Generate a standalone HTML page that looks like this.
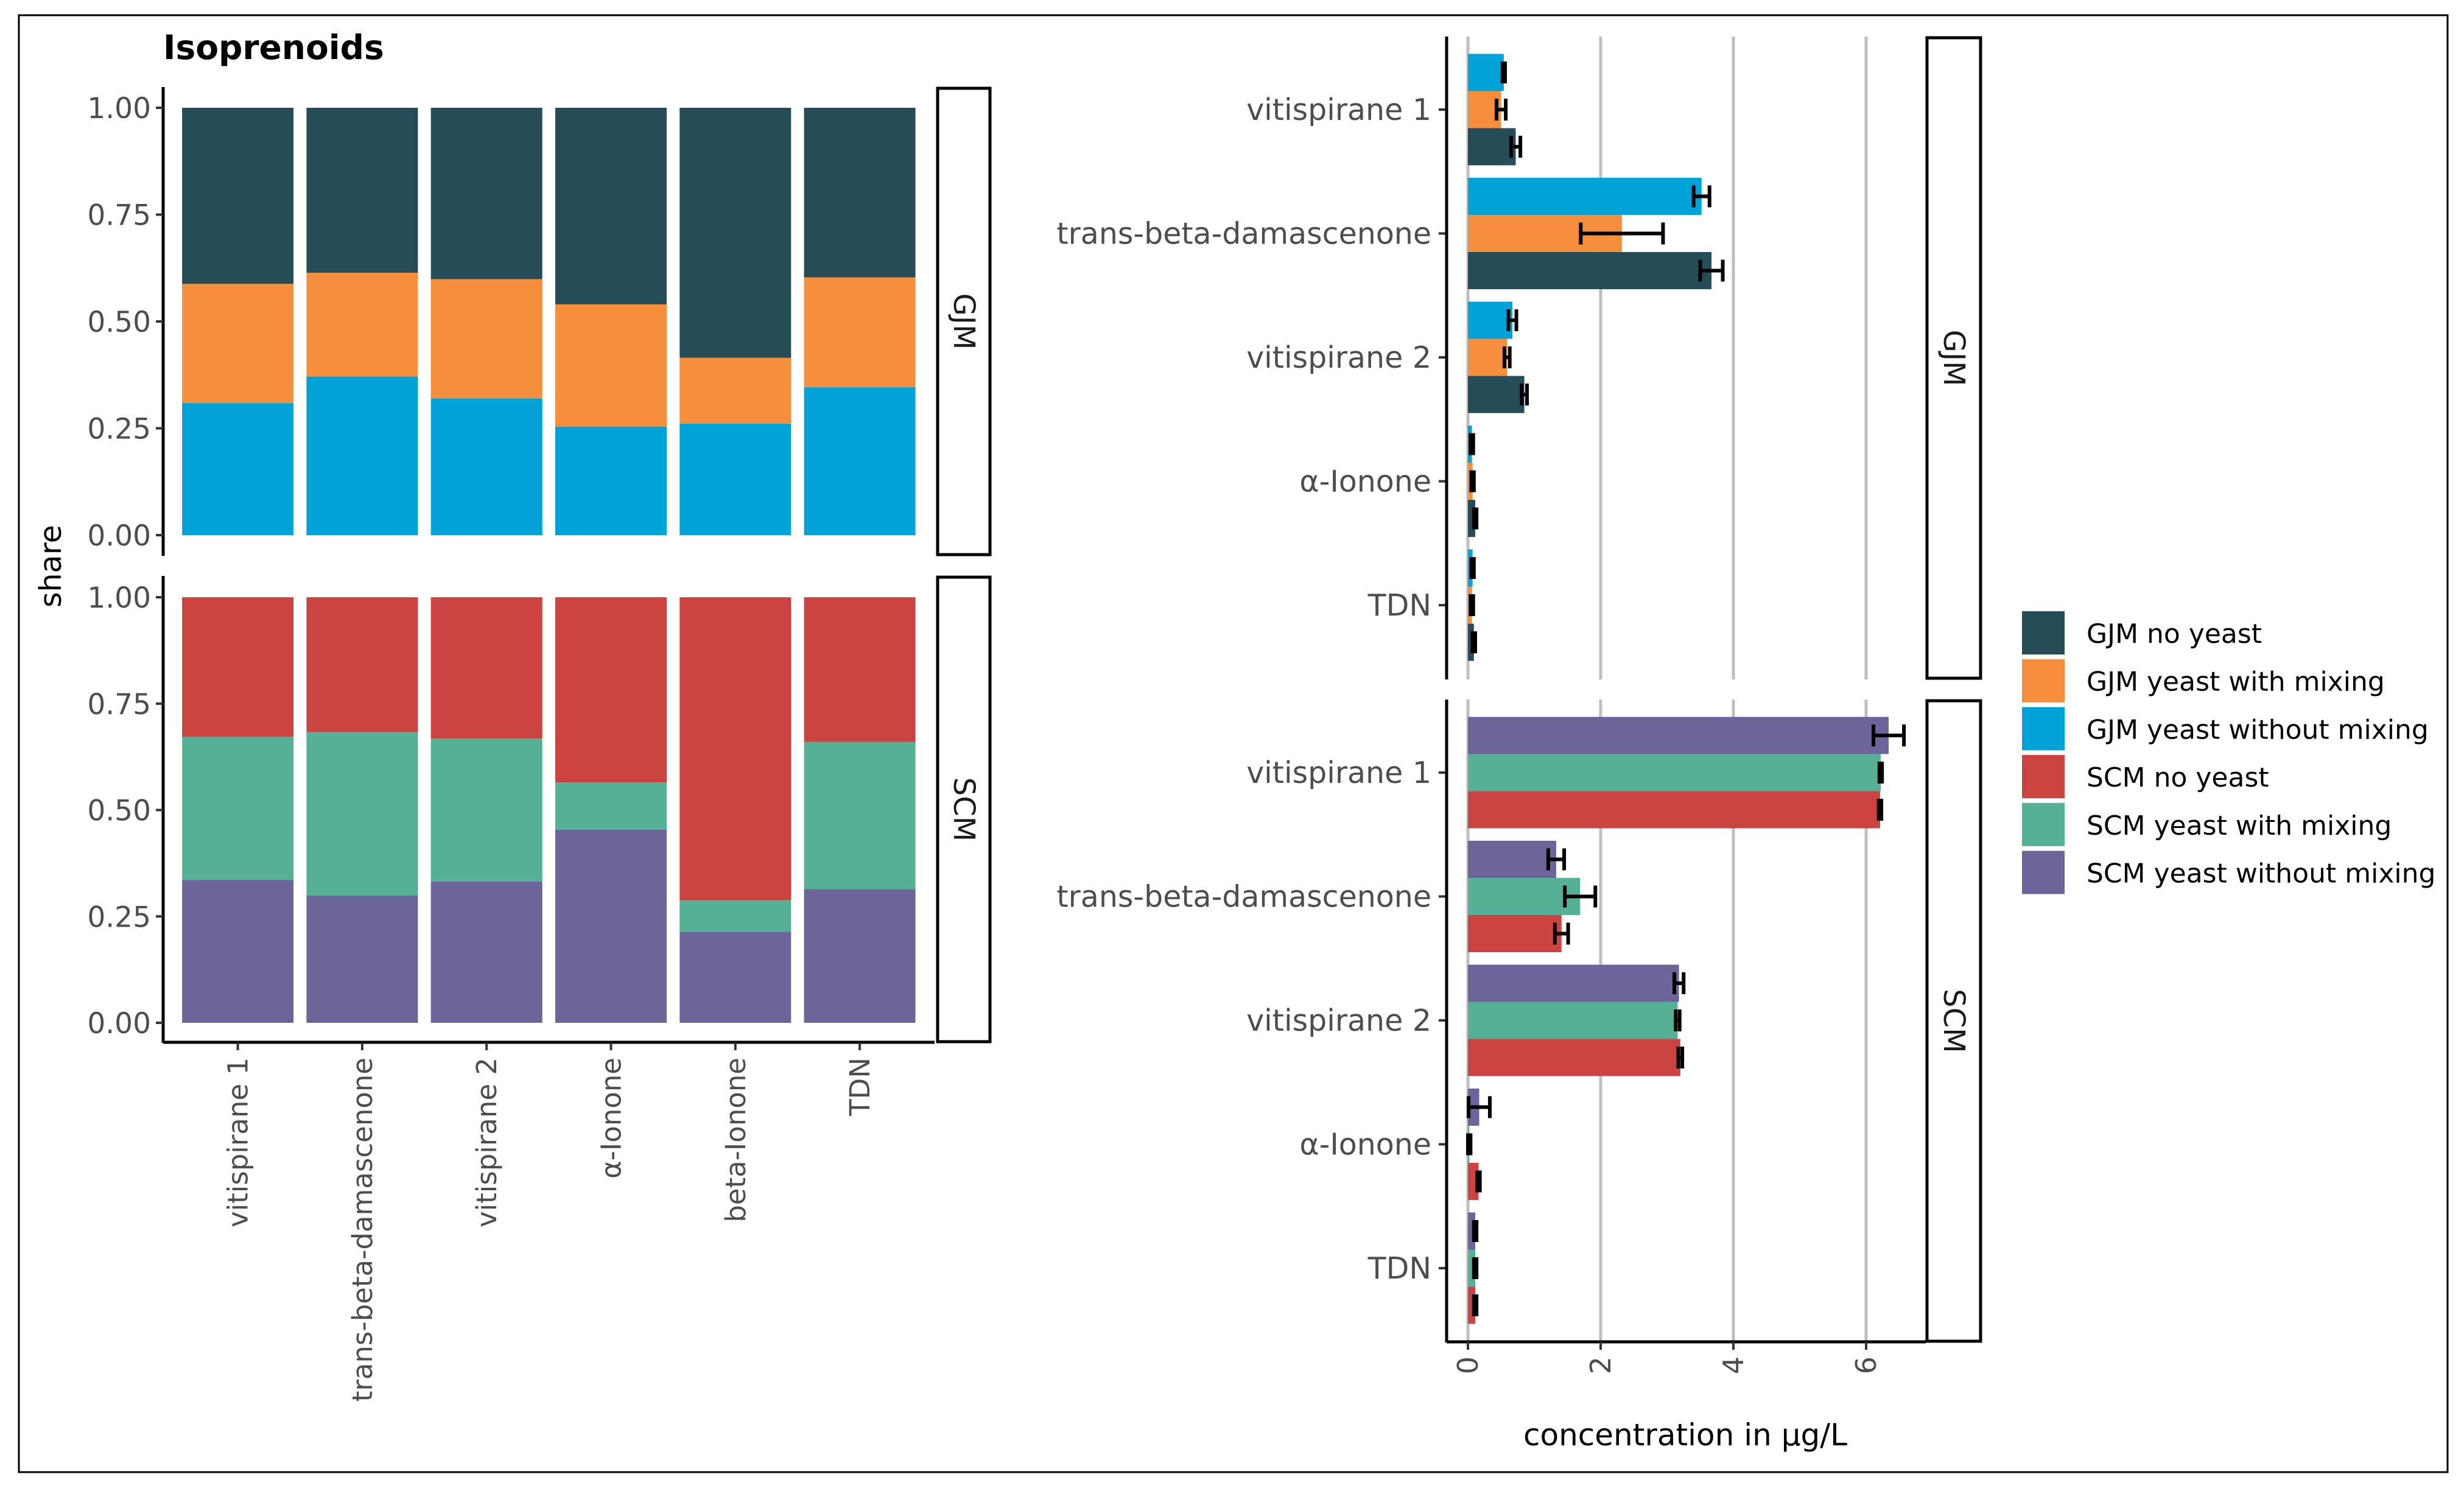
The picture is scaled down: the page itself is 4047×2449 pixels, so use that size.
<!DOCTYPE html>
<html><head><meta charset="utf-8">
<style>
html,body{margin:0;padding:0;background:#fff;}
svg{display:block;font-family:"DejaVu Sans","Liberation Sans",sans-serif;}
</style></head>
<body>
<svg id="chart" width="4047" height="2449" viewBox="0 0 4047 2449" xmlns="http://www.w3.org/2000/svg">
<rect x="0" y="0" width="4047" height="2449" fill="#fff"/>
<rect x="31" y="25" width="3989" height="2393" fill="none" stroke="#000" stroke-width="3"/>
<text x="268" y="97" font-size="55" font-weight="bold" fill="#000">Isoprenoids</text>
<g id="left"></g>
<g id="right"></g>
<g id="legend"></g>
</svg>
<script>
// ---------- data ----------
const compounds = ["vitispirane 1","trans-beta-damascenone","vitispirane 2","α-Ionone","beta-Ionone","TDN"];
const gjmWithoutMixShare = [0.309,0.371,0.320,0.254,0.261,0.346];
const gjmWithMixShare    = [0.279,0.243,0.279,0.286,0.154,0.257];
const gjmNoYeastShare    = [0.412,0.386,0.401,0.460,0.585,0.397];
const scmWithoutMixShare = [0.336,0.299,0.332,0.454,0.214,0.314];
const scmWithMixShare    = [0.336,0.384,0.336,0.111,0.074,0.346];
const scmNoYeastShare    = [0.328,0.317,0.332,0.435,0.712,0.340];
const shareTicks = ["0.00","0.25","0.50","0.75","1.00"];

const concCompounds = ["vitispirane 1","trans-beta-damascenone","vitispirane 2","α-Ionone","TDN"];
const gjmNoYeast  = [0.72,3.67,0.85,0.11,0.09];
const gjmNoYeastErr = [0.07,0.17,0.04,0.02,0.02];
const gjmWithMix  = [0.50,2.32,0.59,0.07,0.06];
const gjmWithMixErr = [0.07,0.62,0.04,0.02,0.02];
const gjmWithoutMix = [0.54,3.52,0.67,0.06,0.07];
const gjmWithoutMixErr = [0.02,0.12,0.06,0.02,0.02];
const scmNoYeast  = [6.21,1.41,3.20,0.16,0.11];
const scmNoYeastErr = [0.02,0.10,0.03,0.02,0.02];
const scmWithMix  = [6.22,1.69,3.16,0.02,0.11];
const scmWithMixErr = [0.02,0.23,0.03,0.02,0.02];
const scmWithoutMix = [6.34,1.33,3.18,0.17,0.11];
const scmWithoutMixErr = [0.23,0.12,0.07,0.16,0.02];
const concTicks = [0,2,4,6];
const legendLabels = ["GJM no yeast","GJM yeast with mixing","GJM yeast without mixing","SCM no yeast","SCM yeast with mixing","SCM yeast without mixing"];

const C = {gNo:"#264d57",gMix:"#f68f3c",gWo:"#00a3d7",sNo:"#cc4442",sMix:"#56b096",sWo:"#6b6599"};
const legendColors = [C.gNo,C.gMix,C.gWo,C.sNo,C.sMix,C.sWo];

const NS="http://www.w3.org/2000/svg";
function mk(parent,tag,attrs,txt){const e=document.createElementNS(NS,tag);for(const k in attrs)e.setAttribute(k,attrs[k]);if(txt!==undefined)e.textContent=txt;parent.appendChild(e);return e;}

// ---------- left: share stacked bars ----------
const L=document.getElementById('left');
const lx0=268, band=204.3, barW=183;
const xBand = i => lx0 + (0.6+i)*band;
const panels=[
 {y0:879,y1:177,top:143,bot:913,strip:"GJM",segs:[[gjmWithoutMixShare,C.gWo,'gjm-without-mixing'],[gjmWithMixShare,C.gMix,'gjm-with-mixing'],[gjmNoYeastShare,C.gNo,'gjm-no-yeast']]},
 {y0:1680,y1:981,top:946,bot:1713,strip:"SCM",segs:[[scmWithoutMixShare,C.sWo,'scm-without-mixing'],[scmWithMixShare,C.sMix,'scm-with-mixing'],[scmNoYeastShare,C.sNo,'scm-no-yeast']]}
];
panels.forEach((p,pi)=>{
  const ys = v => p.y0 + (p.y1-p.y0)*v;
  compounds.forEach((c,i)=>{
    let cum=0;
    p.segs.forEach(([arr,col,nm])=>{
      const a=ys(cum), b=ys(cum+arr[i]);
      const r=mk(L,'rect',{x:xBand(i)-barW/2,y:b,width:barW,height:a-b,fill:col});
      
      
      cum+=arr[i];
    });
  });
  const ax=mk(L,'line',{x1:lx0,x2:lx0,y1:p.top,y2:p.bot,stroke:'#000','stroke-width':5});
  
  
  shareTicks.forEach(t=>{
    const y=ys(parseFloat(t));
    const tk=mk(L,'line',{x1:lx0-12,x2:lx0,y1:y,y2:y,stroke:'#333','stroke-width':4});
    
    
    const tl=mk(L,'text',{x:lx0-20,y:y+17,'text-anchor':'end','font-size':47,fill:'#4d4d4d'},t);
    
    
  });
  const sb=mk(L,'rect',{x:1540,y:p.top+2,width:86,height:p.bot-p.top-4,fill:'#fff',stroke:'#000','stroke-width':5});
  
  
  const cy=(p.top+p.bot)/2;
  const st=mk(L,'text',{x:1583,y:cy,'text-anchor':'middle','dominant-baseline':'central','font-size':48,fill:'#1a1a1a',transform:`rotate(90 1583 ${cy})`},p.strip);
  
  
});
{
const xa=mk(L,'line',{x1:lx0,x2:1535,y1:1712,y2:1712,stroke:'#000','stroke-width':5});


compounds.forEach((c,i)=>{
  const x=xBand(i);
  const tk=mk(L,'line',{x1:x,x2:x,y1:1712,y2:1725,stroke:'#333','stroke-width':4});
  
  
  const tl=mk(L,'text',{x:x+16,y:1737,'text-anchor':'end','font-size':45,fill:'#4d4d4d',transform:`rotate(-90 ${x+16} 1737)`},c);
  
  
});
const yt=mk(L,'text',{x:100,y:930,'text-anchor':'middle','font-size':49,fill:'#000',transform:'rotate(-90 100 930)'},'share');


}

// ---------- right: concentration bars ----------
const R=document.getElementById('right');
const rx0=2411, perUnit=109, axL=2376, panR=3163;
const xs = v => rx0 + v*perUnit;
const catStep=203.5, barH=61;
const rpanels=[
 {top:60,bot:1116,first:180,strip:"GJM",series:[[gjmNoYeast,gjmNoYeastErr,C.gNo,'gjm-no-yeast'],[gjmWithMix,gjmWithMixErr,C.gMix,'gjm-with-mixing'],[gjmWithoutMix,gjmWithoutMixErr,C.gWo,'gjm-without-mixing']]},
 {top:1149,bot:2205,first:1269,strip:"SCM",series:[[scmNoYeast,scmNoYeastErr,C.sNo,'scm-no-yeast'],[scmWithMix,scmWithMixErr,C.sMix,'scm-with-mixing'],[scmWithoutMix,scmWithoutMixErr,C.sWo,'scm-without-mixing']]}
];
rpanels.forEach(p=>{
  concTicks.forEach(t=>{
    const g=mk(R,'line',{x1:xs(t),x2:xs(t),y1:p.top,y2:p.bot,stroke:'#bebebe','stroke-width':5});
    
    
  });
  const yc = i => p.first + i*catStep;
  concCompounds.forEach((c,i)=>{
    p.series.forEach(([vals,errs,col,nm],k)=>{
      const cy=yc(i) + (1-k)*barH;
      const r=mk(R,'rect',{x:xs(0),y:cy-barH/2,width:xs(vals[i])-xs(0),height:barH,fill:col});
      
      
      const lo=xs(vals[i]-errs[i]), hi=xs(vals[i]+errs[i]), h=18;
      const e=mk(R,'path',{d:`M${lo},${cy-h}V${cy+h}M${hi},${cy-h}V${cy+h}M${lo},${cy}H${hi}`,stroke:'#000','stroke-width':6,fill:'none'});
      
      
    });
    const tk=mk(R,'line',{x1:axL-13,x2:axL,y1:yc(i),y2:yc(i),stroke:'#333','stroke-width':4});
    
    
    const tl=mk(R,'text',{x:axL-25,y:yc(i)+17,'text-anchor':'end','font-size':49,fill:'#4d4d4d'},c);
    
    
  });
  const ax=mk(R,'line',{x1:axL,x2:axL,y1:p.top,y2:p.bot,stroke:'#000','stroke-width':5});
  
  
  const sb=mk(R,'rect',{x:3165,y:p.top+2,width:88,height:p.bot-p.top-4,fill:'#fff',stroke:'#000','stroke-width':5});
  
  
  const cy=(p.top+p.bot)/2;
  const st=mk(R,'text',{x:3209,y:cy,'text-anchor':'middle','dominant-baseline':'central','font-size':48,fill:'#1a1a1a',transform:`rotate(90 3209 ${cy})`},p.strip);
  
  
});
{
const xa=mk(R,'line',{x1:axL,x2:panR,y1:2204,y2:2204,stroke:'#000','stroke-width':5});


concTicks.forEach(t=>{
  const x=xs(t);
  const tk=mk(R,'line',{x1:x,x2:x,y1:2204,y2:2217,stroke:'#333','stroke-width':4});
  
  
  const tl=mk(R,'text',{x:x+16,y:2228,'text-anchor':'end','font-size':46,fill:'#4d4d4d',transform:`rotate(-90 ${x+16} 2228)`},String(t));
  
  
});
const xt=mk(R,'text',{x:2768,y:2374,'text-anchor':'middle','font-size':50,fill:'#000'},'concentration in µg/L');


}

// ---------- legend ----------
const G=document.getElementById('legend');
legendLabels.forEach((lab,i)=>{
  const y=1004+i*78.7;
  const k=mk(G,'rect',{x:3321,y:y,width:70,height:71,fill:legendColors[i]});
  
  
  const t=mk(G,'text',{x:3427,y:y+52,'font-size':44,fill:'#000'},lab);
  
  
});
</script>
</body></html>
